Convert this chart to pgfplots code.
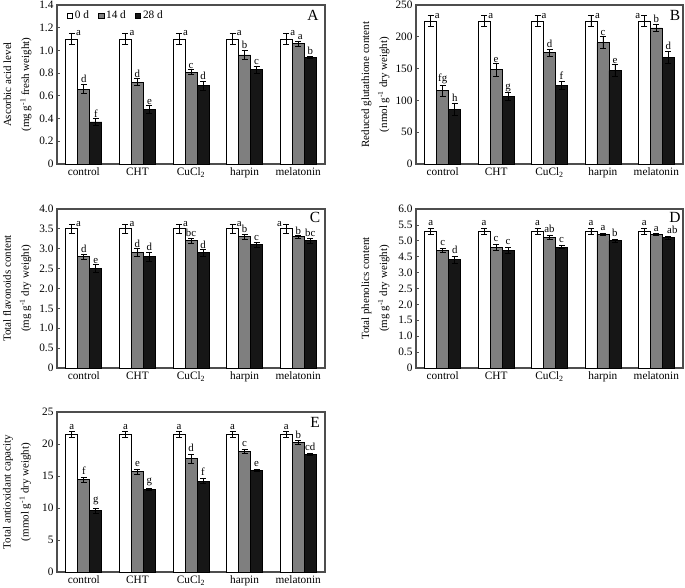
\documentclass[border=0pt]{standalone}
\usepackage{pgfplots}
\pgfplotsset{compat=1.18}
\usepackage{pgfplotstable}
\usepackage{fontspec}
\setmainfont{Liberation Serif}
\definecolor{frame}{HTML}{4D4D4D}
\definecolor{gbar}{HTML}{7F7F7F}
\definecolor{kbar}{HTML}{161616}
\newcommand{\labfont}{\fontsize{10.8}{12}\selectfont}
\tikzset{plabel/.style={font=\fontsize{15.5}{16}\selectfont}}
% letter centred above bar: x, y(top of error), shift, text
\newcommand{\lab}[4]{\node[anchor=south,inner sep=1.2pt,font=\labfont,xshift=#3] at (axis cs:#1,#2) {#4};}
\newcommand{\labD}[4]{\node[anchor=south,inner sep=2.5pt,font=\labfont,xshift=#3] at (axis cs:#1,#2) {#4};}
\newcommand{\labR}[3]{\node[anchor=west,inner sep=1pt,font=\labfont,xshift=-9pt] at (axis cs:#1,#2) {#3};}
\newcommand{\labL}[3]{\node[anchor=east,inner sep=1pt,font=\labfont,xshift=-15pt] at (axis cs:#1,#2) {#3};}

\pgfplotstableread{
x d0 e0 d14 e14 d28 e28
0 1.10 0.05 0.66 0.04 0.37 0.03
1 1.10 0.05 0.72 0.03 0.48 0.035
2 1.10 0.05 0.81 0.02 0.69 0.04
3 1.10 0.05 0.96 0.04 0.83 0.03
4 1.10 0.05 1.06 0.02 0.94 0.01
}\tA
\pgfplotstableread{
x d0 e0 d14 e14 d28 e28
0 225 8 115 9 86 10
1 225 8 148 10 106 6
2 225 8 175 6 124 6
3 225 8 191 9 147 9
4 225 8 214 6 168 9
}\tB
\pgfplotstableread{
x d0 e0 d14 e14 d28 e28
0 3.5 0.12 2.8 0.07 2.5 0.10
1 3.5 0.12 2.9 0.10 2.8 0.12
2 3.5 0.12 3.2 0.07 2.9 0.08
3 3.5 0.12 3.3 0.06 3.1 0.06
4 3.5 0.12 3.3 0.03 3.2 0.07
}\tC
\pgfplotstableread{
x d0 e0 d14 e14 d28 e28
0 5.3 0.1 4.7 0.05 4.4 0.10
1 5.3 0.1 4.8 0.10 4.7 0.10
2 5.3 0.1 5.1 0.06 4.8 0.05
3 5.3 0.1 5.2 0.04 5.0 0.05
4 5.3 0.1 5.2 0.02 5.1 0.05
}\tD
\pgfplotstableread{
x d0 e0 d14 e14 d28 e28
0 21.5 0.4 14.4 0.4 9.6 0.4
1 21.5 0.4 15.7 0.4 12.9 0.2
2 21.5 0.4 17.7 0.7 14.2 0.4
3 21.5 0.4 18.8 0.3 15.9 0.2
4 21.5 0.4 20.2 0.3 18.4 0.2
}\tE

\pgfplotsset{
  panel/.style={
    scale only axis, width=268pt, height=159pt,
    ybar=0pt, bar width=12pt,
    xmin=-0.5, xmax=4.5, ymin=0,
    xtick={0,1,2,3,4},
    xticklabels={control,CHT,CuCl\textsubscript{2},harpin,melatonin},
    major x tick style={draw=none},
    extra x ticks={0.5,1.5,2.5,3.5}, extra x tick labels={},
    extra x tick style={major tick length=3pt, tick align=inside, major tick style={draw=frame,line width=0.8pt}},
    xtick pos=bottom, ytick pos=left,
    tick align=inside, major tick length=3pt,
    tick style={draw=frame, line width=0.8pt},
    axis line style={draw=frame, line width=1.3pt},
    tick label style={font=\fontsize{11.3}{12}\selectfont},
    ylabel style={align=center, font=\fontsize{11}{18}\selectfont, anchor=center},
    legend image code/.code={\draw[#1,line width=0.6pt] (0pt,-2.8pt) rectangle (5.6pt,2.8pt);},
    error bars/error bar style={line width=0.7pt, black},
    error bars/error mark options={rotate=90, mark size=3pt, line width=0.7pt, black},
    clip=false,
  },
  b0/.style={fill=white, draw=black, line width=0.8pt},
  b14/.style={fill=gbar, draw=black, line width=0.8pt},
  b28/.style={fill=kbar, draw=black, line width=0.8pt},
}

\begin{document}
\begin{tikzpicture}
\path[use as bounding box] (0pt,0pt) rectangle (685pt,-587pt);

% ---------------- A ----------------
\begin{axis}[panel, at={(57pt,-164pt)}, anchor=south west,
  ymax=1.4, ytick={0,0.2,...,1.4},
  yticklabels={0,0.2,0.4,0.6,0.8,1.0,1.2,1.4},
  ylabel={Ascorbic acid level\\(mg g\textsuperscript{-1} fresh weight)},
  ylabel style={at={(axis description cs:-0.147,0.5)}},
  legend columns=3,
  legend style={at={(axis description cs:0.035,0.933)}, anchor=west, draw=none, fill=none,
    font=\fontsize{11.3}{12}\selectfont, inner sep=0pt,
    /tikz/every even column/.append style={column sep=7pt}},
  legend cell align=left,
]
\addplot[b0, error bars/.cd, y dir=both, y explicit] table[x=x,y=d0,y error=e0]{\tA};
\addplot[b14, error bars/.cd, y dir=both, y explicit] table[x=x,y=d14,y error=e14]{\tA};
\addplot[b28, error bars/.cd, y dir=both, y explicit] table[x=x,y=d28,y error=e28]{\tA};
\legend{0 d,14 d,28 d}
\labR{0}{1.15}{a}\labR{1}{1.15}{a}\labR{2}{1.15}{a}\labR{3}{1.15}{a}\labR{4}{1.15}{a}
\lab{0}{0.70}{0pt}{d}\lab{1}{0.75}{0pt}{d}\lab{2}{0.83}{0pt}{c}\lab{3}{1.00}{0pt}{b}\lab{4}{1.08}{2pt}{a}
\lab{0}{0.40}{12pt}{f}\lab{1}{0.515}{12pt}{e}\lab{2}{0.73}{12pt}{d}\lab{3}{0.86}{12pt}{c}\lab{4}{0.95}{12pt}{b}
\node[plabel] at (axis description cs:0.955,0.937) {A};
\end{axis}

% ---------------- B ----------------
\begin{axis}[panel, at={(416pt,-164pt)}, anchor=south west, width=267pt,
  ymax=250, ytick={0,50,...,250},
  yticklabels={0,50,100,150,200,250},
  ylabel={Reduced glutathione content\\(nmol g\textsuperscript{-1} dry weight)},
  ylabel style={at={(axis description cs:-0.152,0.5)}},
]
\addplot[b0, error bars/.cd, y dir=both, y explicit] table[x=x,y=d0,y error=e0]{\tB};
\addplot[b14, error bars/.cd, y dir=both, y explicit] table[x=x,y=d14,y error=e14]{\tB};
\addplot[b28, error bars/.cd, y dir=both, y explicit] table[x=x,y=d28,y error=e28]{\tB};
\labR{0}{233}{a}\labR{1}{233}{a}\labR{2}{233}{a}\labR{3}{233}{a}\labL{4}{233}{a}
\lab{0}{124}{0pt}{fg}\lab{1}{158}{0pt}{e}\lab{2}{181}{0pt}{d}\lab{3}{200}{0pt}{c}\lab{4}{220}{0pt}{b}
\lab{0}{96}{12pt}{h}\lab{1}{112}{12pt}{g}\lab{2}{130}{12pt}{f}\lab{3}{156}{12pt}{e}\lab{4}{177}{12pt}{d}
\node[plabel] at (axis description cs:0.97,0.937) {B};
\end{axis}

% ---------------- C ----------------
\begin{axis}[panel, at={(57pt,-368pt)}, anchor=south west,
  ymax=4, ytick={0,0.5,...,4},
  yticklabels={0,0.5,1.0,1.5,2.0,2.5,3.0,3.5,4.0},
  ylabel={Total flavonoids content\\(mg g\textsuperscript{-1} dry weight)},
  ylabel style={at={(axis description cs:-0.149,0.5)}},
]
\addplot[b0, error bars/.cd, y dir=both, y explicit] table[x=x,y=d0,y error=e0]{\tC};
\addplot[b14, error bars/.cd, y dir=both, y explicit] table[x=x,y=d14,y error=e14]{\tC};
\addplot[b28, error bars/.cd, y dir=both, y explicit] table[x=x,y=d28,y error=e28]{\tC};
\labR{0}{3.62}{a}\labR{1}{3.62}{a}\labR{2}{3.62}{a}\labR{3}{3.62}{a}\labL{4}{3.62}{a}
\lab{0}{2.87}{0pt}{d}\lab{1}{3.0}{0pt}{d}\lab{2}{3.27}{0pt}{bc}\lab{3}{3.36}{0pt}{b}\lab{4}{3.33}{0pt}{b}
\lab{0}{2.6}{12pt}{e}\lab{1}{2.92}{12pt}{d}\lab{2}{2.98}{12pt}{d}\lab{3}{3.16}{12pt}{c}\lab{4}{3.27}{12pt}{bc}
\node[plabel] at (axis description cs:0.963,0.95) {C};
\end{axis}

% ---------------- D (broken axis: values above 4 drawn 1 lower) ----------------
\begin{axis}[panel, at={(416pt,-368pt)}, anchor=south west, width=267pt,
  ymax=5, ytick={0,0.5,...,5},
  yticklabels={0,0.5,1.0,1.5,2.0,2.5,3.0,4.5,5.0,5.5,6.0},
  ylabel={Total phenolics content\\(mg g\textsuperscript{-1} dry weight)},
  ylabel style={at={(axis description cs:-0.152,0.5)}},
]
\addplot[b0, error bars/.cd, y dir=both, y explicit] table[x=x,y expr=\thisrow{d0}-1,y error=e0]{\tD};
\addplot[b14, error bars/.cd, y dir=both, y explicit] table[x=x,y expr=\thisrow{d14}-1,y error=e14]{\tD};
\addplot[b28, error bars/.cd, y dir=both, y explicit] table[x=x,y expr=\thisrow{d28}-1,y error=e28]{\tD};
\labD{0}{4.4}{-12pt}{a}\labD{1}{4.4}{-12pt}{a}\labD{2}{4.4}{-12pt}{a}\labD{3}{4.4}{-12pt}{a}\labD{4}{4.4}{-12pt}{a}
\labD{0}{3.75}{0pt}{c}\labD{1}{3.9}{0pt}{c}\labD{2}{4.16}{0pt}{ab}\labD{3}{4.24}{0pt}{a}\labD{4}{4.22}{0pt}{a}
\labD{0}{3.5}{12pt}{d}\labD{1}{3.8}{12pt}{c}\labD{2}{3.85}{12pt}{c}\labD{3}{4.05}{12pt}{b}\labD{4}{4.15}{16pt}{ab}
\node[plabel] at (axis description cs:0.97,0.945) {D};
\end{axis}

% ---------------- E ----------------
\begin{axis}[panel, at={(57pt,-572pt)}, anchor=south west, height=160pt,
  ymax=25, ytick={0,5,...,25},
  yticklabels={0,5,10,15,20,25},
  ylabel={Total antioxidant capacity\\(mmol g\textsuperscript{-1} dry weight)},
  ylabel style={at={(axis description cs:-0.149,0.5)}},
]
\addplot[b0, error bars/.cd, y dir=both, y explicit] table[x=x,y=d0,y error=e0]{\tE};
\addplot[b14, error bars/.cd, y dir=both, y explicit] table[x=x,y=d14,y error=e14]{\tE};
\addplot[b28, error bars/.cd, y dir=both, y explicit] table[x=x,y=d28,y error=e28]{\tE};
\labD{0}{21.9}{-12pt}{a}\labD{1}{21.9}{-12pt}{a}\labD{2}{21.9}{-12pt}{a}\labD{3}{21.9}{-12pt}{a}\labD{4}{21.9}{-12pt}{a}
\labD{0}{14.8}{0pt}{f}\labD{1}{16.1}{0pt}{e}\labD{2}{18.4}{0pt}{d}\labD{3}{19.1}{0pt}{c}\labD{4}{20.5}{0pt}{b}
\labD{0}{10.0}{12pt}{g}\labD{1}{13.1}{12pt}{g}\labD{2}{14.6}{12pt}{f}\labD{3}{16.1}{12pt}{e}\labD{4}{18.6}{12pt}{cd}
\node[plabel] at (axis description cs:0.963,0.936) {E};
\end{axis}
\end{tikzpicture}
\end{document}
